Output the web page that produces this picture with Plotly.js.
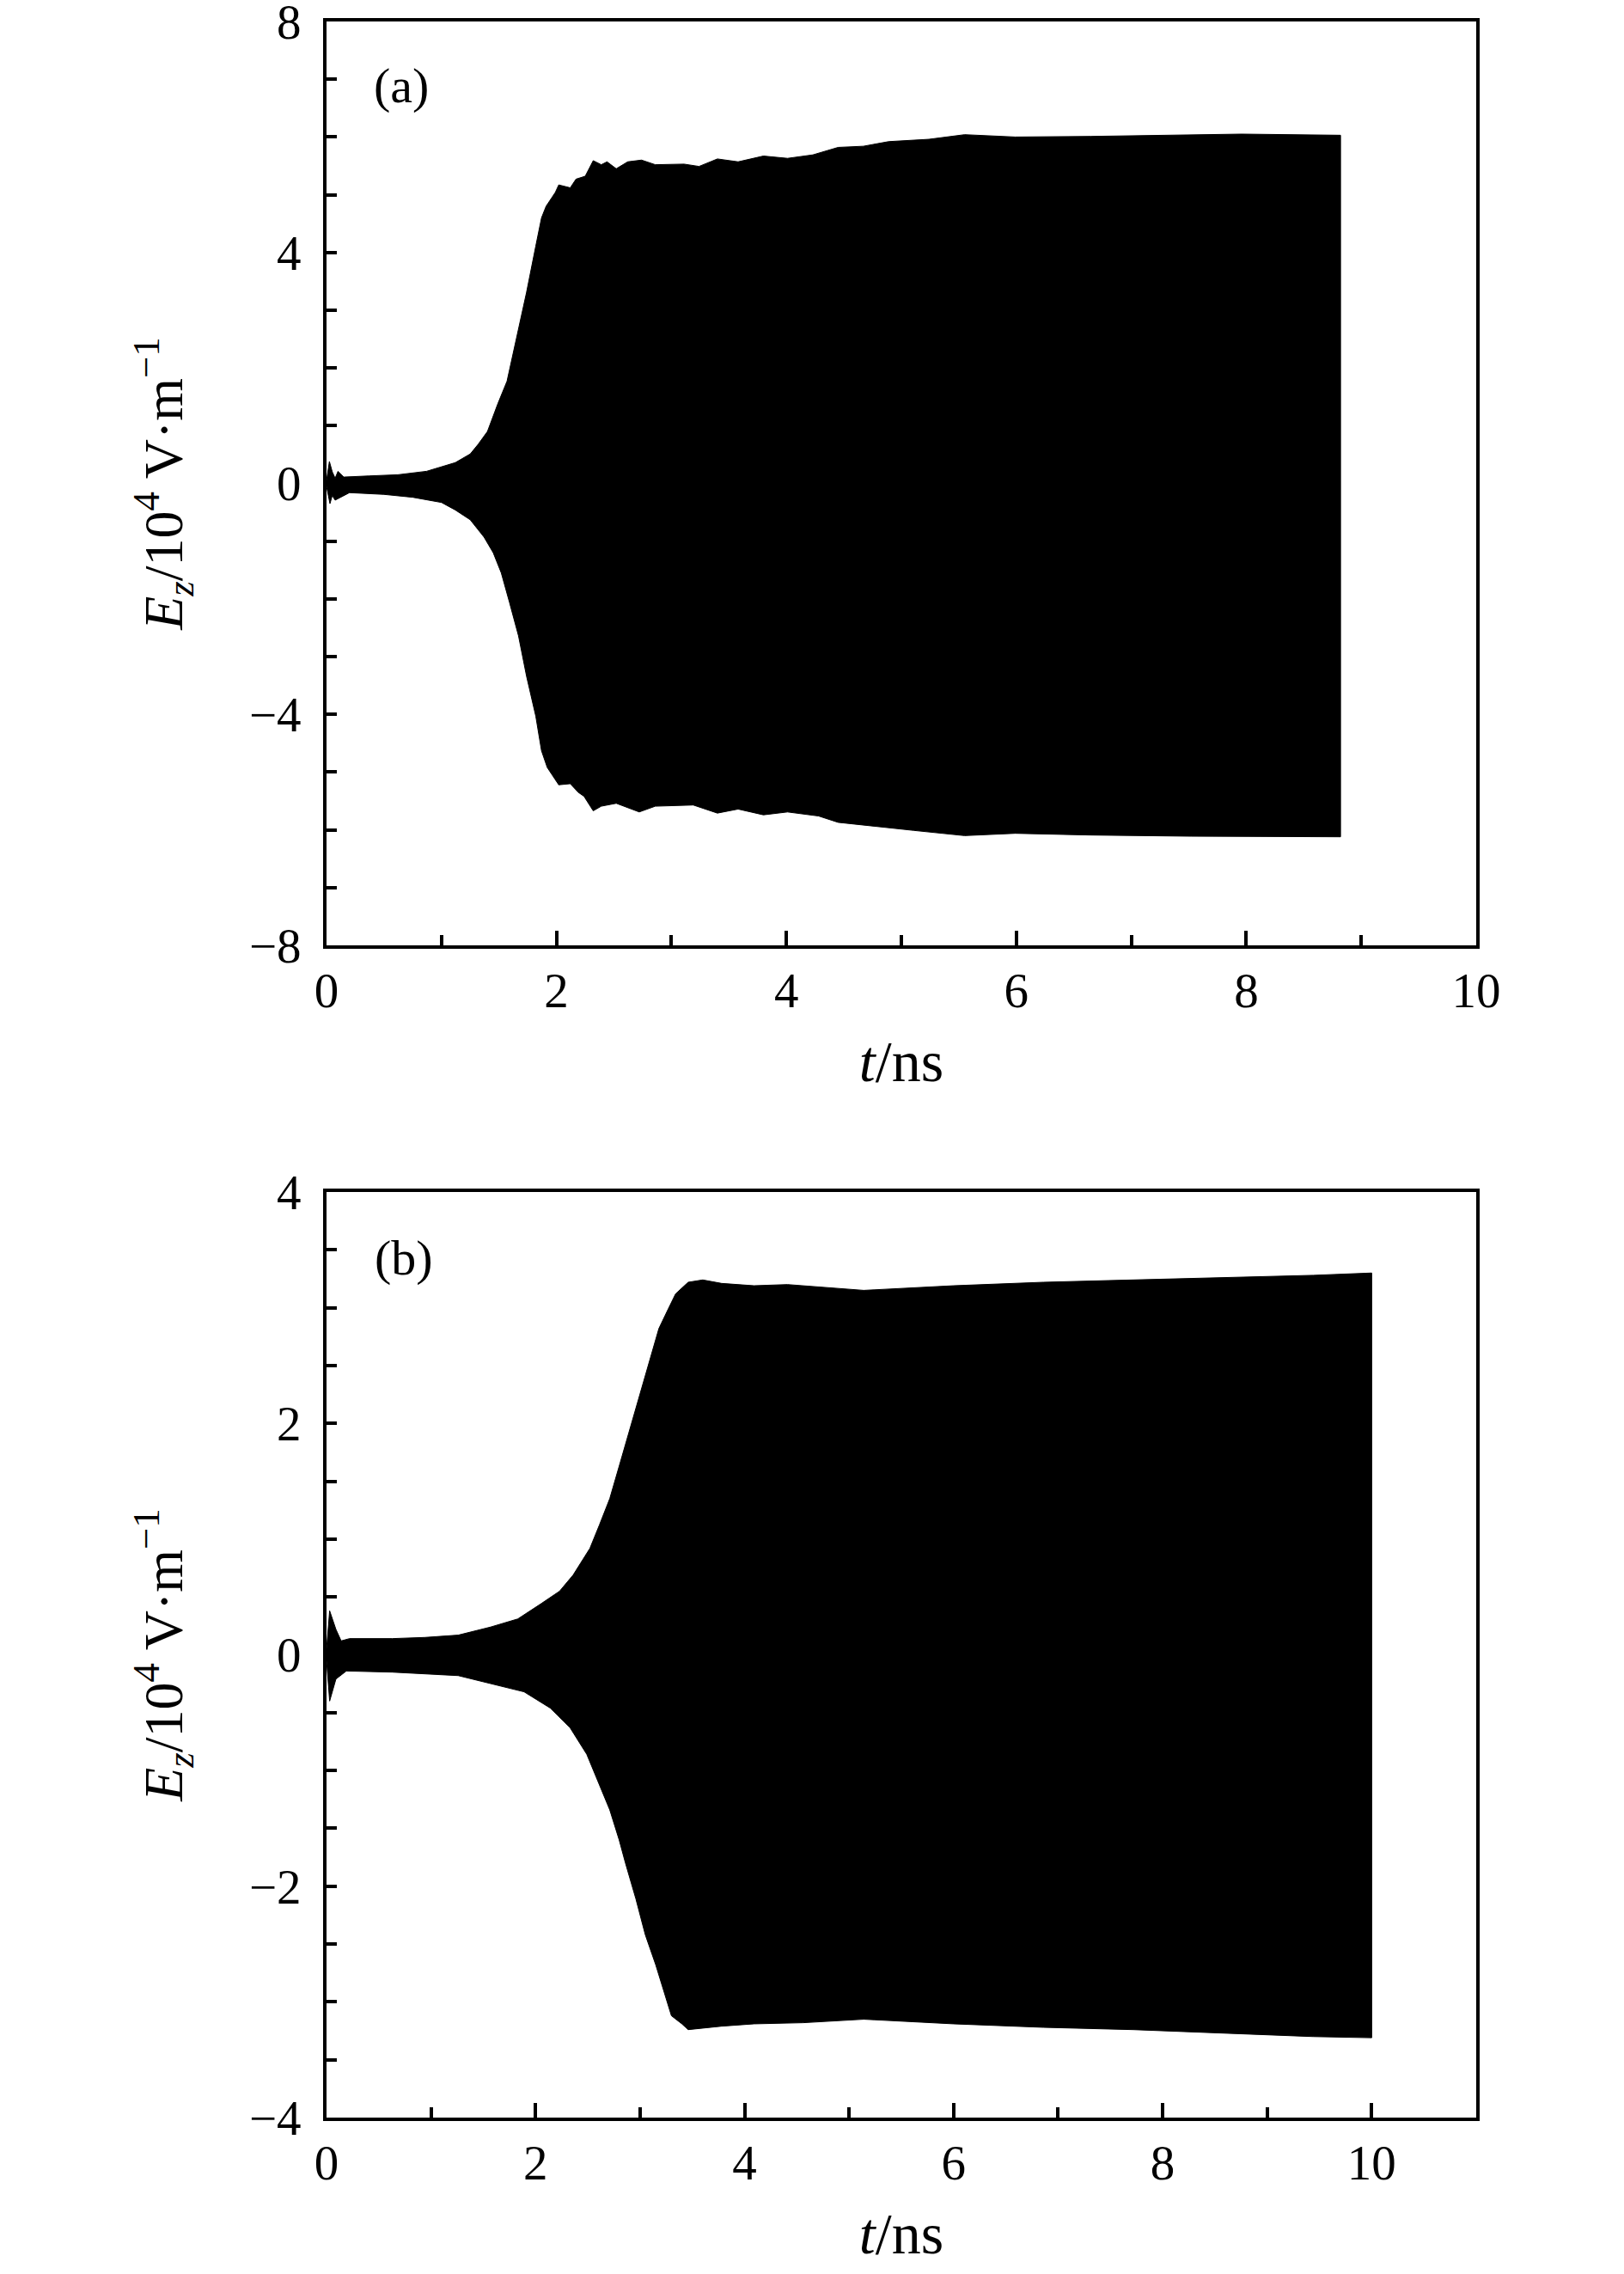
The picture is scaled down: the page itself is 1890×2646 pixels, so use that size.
<!DOCTYPE html>
<html>
<head>
<meta charset="utf-8">
<script src="https://cdn.plot.ly/plotly-3.0.1.min.js"></script>
<style>html,body{margin:0;padding:0;background:#fff;}#chart{width:1890px;height:2646px;}</style>
</head>
<body>
<div id="chart"></div>
<script>
// Panel (a): envelope of E_z (10^4 V/m) vs t (ns)
const ta_up = [0, 0.025, 0.05, 0.075, 0.1, 0.15, 0.37, 0.62, 0.87, 1.12, 1.25, 1.32, 1.40, 1.49, 1.57, 1.64, 1.74, 1.82, 1.87, 1.91, 1.99, 2.02, 2.12, 2.17, 2.25, 2.32, 2.39, 2.44, 2.52, 2.62, 2.74, 2.86, 3.11, 3.24, 3.40, 3.58, 3.80, 4.01, 4.23, 4.45, 4.67, 4.89, 5.24, 5.55, 5.99, 6.65, 7.52, 7.96, 8.82];
const ea_up = [0.05, 0.38, 0.20, 0.09, 0.21, 0.11, 0.13, 0.15, 0.21, 0.36, 0.51, 0.68, 0.90, 1.38, 1.77, 2.42, 3.31, 4.11, 4.60, 4.80, 5.04, 5.17, 5.12, 5.27, 5.32, 5.59, 5.52, 5.57, 5.45, 5.57, 5.60, 5.52, 5.53, 5.49, 5.62, 5.57, 5.67, 5.63, 5.69, 5.82, 5.84, 5.92, 5.96, 6.04, 6.00, 6.01, 6.04, 6.05, 6.03];
const ta_lo = [0, 0.03, 0.05, 0.075, 0.2, 0.5, 0.75, 1.0, 1.12, 1.25, 1.37, 1.45, 1.52, 1.59, 1.67, 1.74, 1.82, 1.87, 1.92, 2.02, 2.12, 2.19, 2.24, 2.32, 2.39, 2.52, 2.72, 2.86, 3.19, 3.40, 3.58, 3.80, 4.01, 4.28, 4.45, 4.67, 5.11, 5.55, 5.99, 6.65, 7.52, 8.82];
const ea_lo = [-0.05, -0.35, -0.21, -0.29, -0.16, -0.19, -0.24, -0.33, -0.46, -0.63, -0.93, -1.20, -1.55, -2.05, -2.64, -3.34, -4.03, -4.63, -4.92, -5.22, -5.20, -5.35, -5.42, -5.67, -5.59, -5.54, -5.69, -5.59, -5.57, -5.71, -5.64, -5.74, -5.69, -5.76, -5.87, -5.92, -6.01, -6.10, -6.06, -6.09, -6.11, -6.12];

// Panel (b)
const tb_up = [0, 0.03, 0.09, 0.14, 0.22, 0.63, 0.94, 1.26, 1.57, 1.83, 2.05, 2.23, 2.36, 2.52, 2.61, 2.71, 2.80, 2.89, 2.99, 3.08, 3.18, 3.27, 3.34, 3.46, 3.60, 3.78, 4.09, 4.41, 4.72, 5.14, 6.00, 6.86, 7.72, 8.58, 9.44, 10.0];
const eb_up = [0.05, 0.38, 0.22, 0.12, 0.14, 0.14, 0.15, 0.17, 0.24, 0.31, 0.44, 0.55, 0.69, 0.92, 1.12, 1.35, 1.63, 1.91, 2.23, 2.51, 2.82, 2.99, 3.12, 3.22, 3.24, 3.21, 3.19, 3.20, 3.18, 3.15, 3.19, 3.22, 3.24, 3.26, 3.28, 3.30];
const tb_lo = [0, 0.03, 0.09, 0.19, 0.63, 1.26, 1.57, 1.89, 2.14, 2.33, 2.49, 2.61, 2.71, 2.80, 2.86, 2.96, 3.05, 3.15, 3.24, 3.30, 3.40, 3.46, 3.78, 4.09, 4.56, 5.14, 6.00, 6.86, 7.72, 8.58, 9.44, 10.0];
const eb_lo = [-0.05, -0.40, -0.21, -0.14, -0.15, -0.18, -0.25, -0.32, -0.46, -0.63, -0.86, -1.12, -1.34, -1.60, -1.80, -2.11, -2.42, -2.68, -2.94, -3.12, -3.19, -3.24, -3.21, -3.19, -3.18, -3.15, -3.19, -3.22, -3.24, -3.27, -3.30, -3.31];

// Tick labels and tick positions
const xTickVals = [0, 2, 4, 6, 8, 10];
const xTickText = ['0', '2', '4', '6', '8', '10'];
const yaTickVals = [-8, -4, 0, 4, 8];
const yaTickText = ['\u22128', '\u22124', '0', '4', '8'];
const yaLongTicks = [-8, -6, -4, -2, 0, 2, 4, 6, 8];
const ybTickVals = [-4, -2, 0, 2, 4];
const ybTickText = ['\u22124', '\u22122', '0', '2', '4'];
const ybLongTicks = [-4, -3, -2, -1, 0, 1, 2, 3, 4];

function band(tu, eu, tl, el, xa, ya) {
  const x = tu.concat(tl.slice().reverse());
  const y = eu.concat(el.slice().reverse());
  return {x: x, y: y, xaxis: xa, yaxis: ya, type: 'scatter', mode: 'lines',
          fill: 'toself', fillcolor: '#000', line: {color: '#000', width: 1},
          hoverinfo: 'skip', showlegend: false};
}

const FONT = 'Liberation Serif, Times New Roman, serif';
const tickFont = {family: FONT, size: 57, color: '#000'};
const titleFont = {family: FONT, size: 64, color: '#000'};

function xAxis(range, domain, anchor) {
  return {range: range, domain: domain, anchor: anchor,
    showline: true, linecolor: '#000', linewidth: 4, mirror: true,
    ticks: 'inside', ticklen: 17, tickwidth: 4, tickcolor: '#000',
    tickmode: 'array', tickvals: xTickVals, ticktext: xTickText,
    minor: {tickmode: 'linear', tick0: 0, dtick: 1, ticks: 'inside', ticklen: 12, tickwidth: 4, tickcolor: '#000', showgrid: false},
    showgrid: false, zeroline: false, tickfont: tickFont, ticklabelstandoff: 0,
    ticklabeloverflow: 'allow',
    title: {text: '<i>t</i>/ns', font: {family: FONT, size: 68, color: '#000'}, standoff: 28}};
}
function yAxis(range, domain, anchor, vals, text, minorD) {
  return {range: range, domain: domain, anchor: anchor,
    showline: true, linecolor: '#000', linewidth: 4, mirror: true,
    ticks: 'inside', ticklen: 12, tickwidth: 4, tickcolor: '#000',
    tickmode: 'array', tickvals: vals, ticktext: text,
    minor: {tickmode: 'linear', tick0: 0, dtick: minorD, ticks: 'inside', ticklen: 12, tickwidth: 4, tickcolor: '#000', showgrid: false},
    showgrid: false, zeroline: false, tickfont: tickFont, ticklabelstandoff: 14,
    ticklabeloverflow: 'allow',
    title: {text: '<i>E</i><sub><i>z</i></sub>/10<sup>4</sup> V\u00b7m<sup>\u22121</sup>', font: titleFont, standoff: 58}};
}
function yLong(range, over, vals) {
  return {range: range, overlaying: over, anchor: over === 'y' ? 'x' : 'x2', side: 'left',
    showline: false, showgrid: false, zeroline: false, showticklabels: false,
    ticks: 'inside', ticklen: 17, tickwidth: 4, tickcolor: '#000',
    tickmode: 'array', tickvals: vals};
}

const W = 1890, H = 2646;
const xdom = [380 / W, 1718 / W];
const yadom = [1 - 1100 / H, 1 - 25 / H];
const ybdom = [1 - 2464 / H, 1 - 1387 / H];

const data = [
  band(ta_up, ea_up, ta_lo, ea_lo, 'x', 'y'),
  band(tb_up, eb_up, tb_lo, eb_lo, 'x2', 'y2')
];

const layout = {
  width: W, height: H,
  margin: {l: 0, r: 0, t: 0, b: 0},
  paper_bgcolor: '#fff', plot_bgcolor: '#fff',
  showlegend: false,
  xaxis: xAxis([0, 10], xdom, 'y'),
  yaxis: yAxis([-8, 8], yadom, 'x', yaTickVals, yaTickText, 1),
  xaxis2: xAxis([0, 11], xdom, 'y2'),
  yaxis2: yAxis([-4, 4], ybdom, 'x2', ybTickVals, ybTickText, 0.5),
  yaxis3: yLong([-8, 8], 'y', yaLongTicks),
  yaxis4: yLong([-4, 4], 'y2', ybLongTicks),
  annotations: [
    {text: '(a)', xref: 'paper', yref: 'paper', x: 467 / W, y: 1 - 99 / H, showarrow: false,
     xanchor: 'center', yanchor: 'middle', font: {family: FONT, size: 58, color: '#000'}},
    {text: '(b)', xref: 'paper', yref: 'paper', x: 470 / W, y: 1 - 1463 / H, showarrow: false,
     xanchor: 'center', yanchor: 'middle', font: {family: FONT, size: 58, color: '#000'}}
  ]
};

Plotly.newPlot('chart', data, layout, {staticPlot: true, displayModeBar: false});
</script>
</body>
</html>
